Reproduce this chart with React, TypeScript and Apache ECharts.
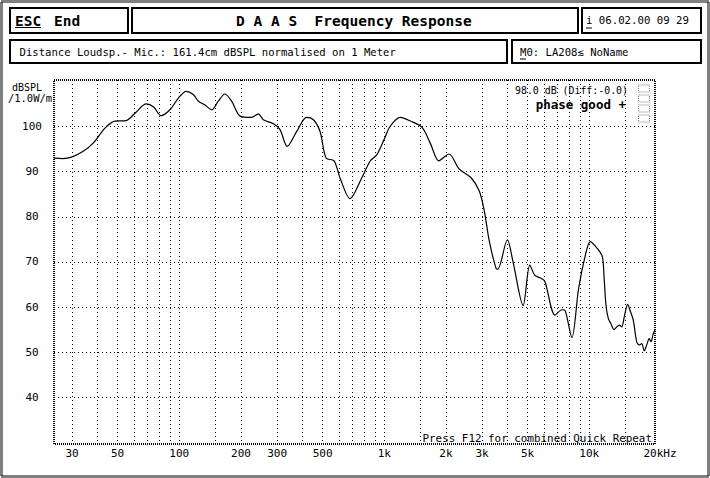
import React, { useEffect, useRef } from "react";
import * as echarts from "echarts";

// Frequency response (Hz) and level (dBSPL /1.0W/m)
const freqHz = [24.5, 27, 29.8, 34, 38, 43.5, 48.5, 55, 61, 69, 75, 81.5, 90, 99, 108, 117, 124, 133, 144, 155, 167, 180, 198, 225, 243, 257, 288, 310, 336, 374, 418, 451, 486, 520, 569, 608, 681, 776, 852, 918, 1000, 1067, 1197, 1341, 1529, 1680, 1845, 2068, 2316, 2645, 2907, 3078, 3256, 3513, 3580, 3985, 4246, 4756, 5127, 5430, 5853, 6081, 6813, 7350, 7630, 8225, 8870, 9570, 10120, 10930, 11570, 11800, 12060, 12380, 12720, 13200, 13610, 14010, 14390, 14930, 15390, 15790, 16390, 17030, 17540, 18010, 18550, 19050, 19620, 20000, 20520, 20920];
const splDb = [93.0, 92.9, 93.2, 94.5, 96.3, 99.7, 101.2, 101.3, 103.0, 105.0, 104.3, 102.4, 103.7, 106.3, 107.8, 107.1, 105.6, 104.8, 103.7, 105.6, 107.2, 105.6, 102.3, 102.0, 102.8, 101.5, 100.6, 99.3, 95.6, 98.9, 102.0, 101.5, 98.9, 93.0, 92.4, 88.6, 84.0, 88.6, 92.3, 93.7, 97.2, 100.0, 102.0, 101.2, 99.8, 96.2, 92.4, 93.9, 90.6, 88.7, 85.7, 81.2, 74.5, 68.5, 68.4, 74.9, 70.0, 60.3, 69.3, 67.0, 66.3, 65.6, 58.2, 59.4, 59.2, 53.2, 64.1, 71.5, 74.5, 73.0, 71.2, 66.8, 60.4, 57.5, 56.4, 55.0, 55.6, 56.0, 55.6, 58.6, 60.6, 59.3, 57.1, 52.3, 51.6, 51.9, 50.3, 51.6, 53.0, 52.3, 54.1, 54.9];

// Axis ticks
const xLabelFreqs = [30, 50, 100, 200, 300, 500, 1000, 2000, 3000, 5000, 10000, 20000];
const xLabelTexts = ["30", "50", "100", "200", "300", "500", "1k", "2k", "3k", "5k", "10k", "20kHz"];
const xGridFreqs = [30, 40, 50, 60, 70, 80, 90, 100, 150, 200, 300, 400, 500, 600, 700, 800, 900, 1000, 1500, 2000, 3000, 4000, 5000, 6000, 7000, 8000, 9000, 10000, 15000];
const yTicks = [40, 50, 60, 70, 80, 90, 100];
const xMinHz = 24.48;
const xMaxHz = 20920;
const yMin = 29.65;
const yMax = 110.3;

const MONO = '"DejaVu Sans Mono", "Liberation Mono", "DejaVu Sans", monospace';

export default function App() {
  const ref = useRef<HTMLDivElement>(null);
  useEffect(() => {
    if (!ref.current) return;
    const chart = echarts.init(ref.current, null, { renderer: "svg" });
    const grid = { left: 54, top: 80, right: 55, bottom: 34 };
    const W = 710, H = 478;
    const pw = W - grid.left - grid.right;
    const ph = H - grid.top - grid.bottom;
    const lg = (f: number) => Math.log10(f);

    const txt = (text: string, x: number, y: number, size: number, opts: any = {}) => ({
      type: "text",
      x,
      y,
      silent: true,
      style: {
        text,
        font: `${opts.bold ? "bold " : ""}${size}px ${MONO}`,
        fill: "#000",
        align: opts.align || "left",
        verticalAlign: "middle",
      },
    });
    const box = (x: number, y: number, w: number, h: number) => ({
      type: "rect",
      shape: { x, y, width: w, height: h },
      style: { fill: "none", stroke: "#000", lineWidth: 2 },
      silent: true,
    });
    const uline = (x1: number, x2: number, y: number) => ({
      type: "line",
      shape: { x1, y1: y, x2, y2: y },
      style: { stroke: "#000", lineWidth: 1 },
      silent: true,
    });
    const tiny = (y: number) => ({
      type: "rect",
      shape: { x: 638.5, y, width: 11, height: 7 },
      style: { fill: "none", stroke: "#777", lineWidth: 1, lineDash: [1, 1] },
      silent: true,
    });

    chart.setOption({
      animation: false,
      backgroundColor: "#fff",
      grid: { ...grid, containLabel: false },
      xAxis: {
        type: "value",
        min: lg(xMinHz),
        max: lg(xMaxHz),
        axisLine: { show: false },
        axisTick: { show: false, customValues: xGridFreqs.map(lg) },
        splitLine: { show: true, lineStyle: { color: "#000", width: 1, type: [1, 3] } },
        axisLabel: {
          customValues: xLabelFreqs.map(lg),
          margin: 4,
          color: "#000",
          fontFamily: MONO,
          fontSize: 11,
          formatter: (v: number) => {
            const i = xLabelFreqs.findIndex((f) => Math.abs(lg(f) - v) < 1e-6);
            if (i < 0) return "";
            return i === xLabelFreqs.length - 1 ? `{last|${xLabelTexts[i]}}` : xLabelTexts[i];
          },
          rich: { last: { padding: [0, 0, 0, 18], fontFamily: MONO, fontSize: 11, color: "#000" } },
        },
      },
      yAxis: {
        type: "value",
        min: yMin,
        max: yMax,
        axisLine: { show: false },
        axisTick: { show: false, customValues: yTicks },
        splitLine: { show: true, lineStyle: { color: "#000", width: 1, type: [1, 3] } },
        axisLabel: {
          customValues: yTicks,
          margin: 22,
          align: "center",
          color: "#000",
          fontFamily: MONO,
          fontSize: 11,
        },
      },
      series: [
        {
          type: "line",
          data: freqHz.map((f, i) => [lg(f), splDb[i]]),
          showSymbol: false,
          smooth: 0.3,
          clip: true,
          lineStyle: { color: "#000", width: 1.2 },
        },
      ],
      graphic: [
        // page frame
        {
          type: "rect",
          shape: { x: 1.5, y: 1.5, width: W - 3, height: H - 3 },
          style: { fill: "none", stroke: "#000", lineWidth: 3, lineDash: [1, 1] },
          silent: true,
        },
        // plot frame
        {
          type: "rect",
          shape: { x: grid.left, y: grid.top, width: pw, height: ph },
          style: { fill: "none", stroke: "#000", lineWidth: 2, lineDash: [1, 1] },
          silent: true,
          z: 10,
        },
        // header boxes
        box(10, 8, 118, 25),
        box(132, 8, 446, 25),
        box(582, 8, 119, 25),
        box(10, 40, 497, 23),
        box(512, 40, 189, 23),
        txt("ESC", 15, 20.5, 14.5, { bold: true }),
        uline(15, 41, 27.5),
        txt("End", 54, 20.5, 14.5, { bold: true }),
        txt("D A A S  Frequency Response", 236, 20.5, 14.5, { bold: true }),
        txt("i 06.02.00 09 29", 586, 20.5, 10.7),
        uline(586, 592, 28),
        txt("Distance Loudsp.- Mic.: 161.4cm dBSPL normalised on 1 Meter", 19.5, 51.5, 10.6),
        txt("M0: LA208\u2272 NoName", 520, 51.5, 10.6),
        uline(520, 526, 59),
        // y axis unit
        txt("dBSPL", 27, 87, 10, { align: "center" }),
        txt("/1.0W/m", 30, 97.5, 10.5, { align: "center" }),
        // annotations
        txt("98.0 dB (Diff:-0.0)", 628, 90, 9.9, { align: "right" }),
        txt("phase good +", 626, 104, 12.5, { bold: true, align: "right" }),
        txt("Press F12 for combined Quick Repeat", 652, 438, 10.9, { align: "right" }),
        tiny(85),
        tiny(95),
        tiny(105),
        tiny(115),
      ],
    });
    return () => chart.dispose();
  }, []);
  return (
    <div
      ref={ref}
      style={{ position: "fixed", left: 0, top: 0, width: 710, height: 478, background: "#fff" }}
    />
  );
}
